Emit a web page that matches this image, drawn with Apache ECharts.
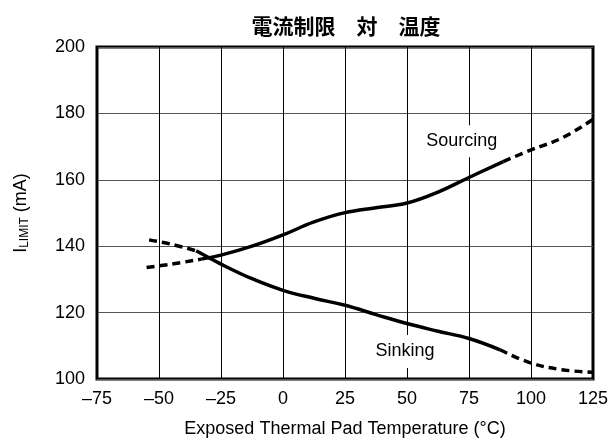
<!DOCTYPE html>
<html><head><meta charset="utf-8">
<script src="https://cdn.jsdelivr.net/npm/echarts@6/dist/echarts.min.js"></script>
<style>html,body{margin:0;padding:0;background:#fff}#c{width:613px;height:443px}</style>
</head><body><div id="c"></div>
<script>
const titleText = '電流制限　対　温度';
const xName = 'Exposed Thermal Pad Temperature (°C)';
// Sourcing curve segments [temp, mA]
const sourcingLowDashed = [[-55,133.6],[-45,134.6],[-33,136.1]];
const sourcingSolid = [[-33,136.1],[-25,137.3],[-12.5,140],[0,143.4],[12.5,147.3],[25,150.1],[37.5,151.6],[50,153],[62.5,156.3],[75,160.7],[88.8,165.5]];
const sourcingHighDashed = [[88.8,165.5],[100,169],[112.5,172.6],[125,178.2]];
// Sinking curve segments
const sinkingLowDashed = [[-54,141.9],[-45,140.6],[-35,138.6]];
const sinkingSolid = [[-35,138.6],[-25,134.6],[-12.5,130.2],[0,126.7],[12.5,124.3],[25,122.2],[37.5,119.4],[50,116.7],[62.5,114.4],[75,112.2],[87.5,108.8]];
const sinkingHighDashed = [[87.5,108.8],[100,104.8],[112.5,102.8],[125,102]];
const labelNames = ['Sourcing', 'Sinking'];
const labelCoords = [[72.1,171.6],[49.2,108.3]];

const solid = {color:'#000', width:3.5, type:'solid'};
const dashed = {color:'#000', width:3.5, type:[8,5]};
function line(data, style){
  return {type:'line', data, smooth:0.4, symbol:'none', lineStyle:style, silent:true, z:5};
}
const font = '"Liberation Sans", Arial, sans-serif';
const fs = 18;
const labelPads = [[7,4],[5,4,10,4]];
const chart = echarts.init(document.getElementById('c'));
chart.setOption({
  animation:false,
  title:{text:titleText, left:341, top:11, textAlign:'center',
    textStyle:{fontFamily:'"Noto Sans CJK JP"', fontWeight:'bold', fontSize:21, color:'#000'}},
  grid:{left:97, right:20, top:47, bottom:61, show:true, borderColor:'#000', borderWidth:3, backgroundColor:'transparent'},
  xAxis:{type:'value', min:-75, max:125, interval:25,
    axisLine:{show:false}, axisTick:{show:false},
    splitLine:{show:true, lineStyle:{color:'#000', width:1}},
    axisLabel:{fontFamily:font, fontSize:fs, color:'#000', margin:11,
      formatter:v=>String(v).replace('-', '–')},
    name:xName, nameLocation:'middle', nameGap:41,
    nameTextStyle:{fontFamily:font, fontSize:fs, color:'#000'}},
  yAxis:{type:'value', min:100, max:200, interval:20,
    axisLine:{show:false}, axisTick:{show:false},
    splitLine:{show:true, lineStyle:{color:'#555', width:1}},
    axisLabel:{fontFamily:font, fontSize:fs, color:'#000', margin:12},
    name:'{i|I}{s|LIMIT}{i| (mA)}', nameLocation:'middle', nameGap:66,
    nameTextStyle:{fontFamily:font, color:'#000',
      rich:{i:{fontFamily:font, fontSize:fs, color:'#000'}, s:{fontFamily:font, fontSize:12, color:'#000', verticalAlign:'bottom', padding:[8,0,0,0]}}}},
  series:[
    line(sourcingLowDashed, dashed),
    line(sourcingSolid, solid),
    line(sourcingHighDashed, dashed),
    line(sinkingLowDashed, dashed),
    line(sinkingSolid, solid),
    line(sinkingHighDashed, dashed),
    {type:'scatter', data:[], silent:true, z:2,
      markPoint:{symbol:'rect', symbolSize:1, itemStyle:{color:'transparent'},
        label:{show:true, position:'inside', formatter:p=>p.name, fontFamily:font, fontSize:fs, color:'#000',
          backgroundColor:'#fff'},
        data:labelNames.map((n,i)=>({name:n, coord:labelCoords[i], label:{padding:labelPads[i]}}))}}
  ]
});
</script></body></html>
